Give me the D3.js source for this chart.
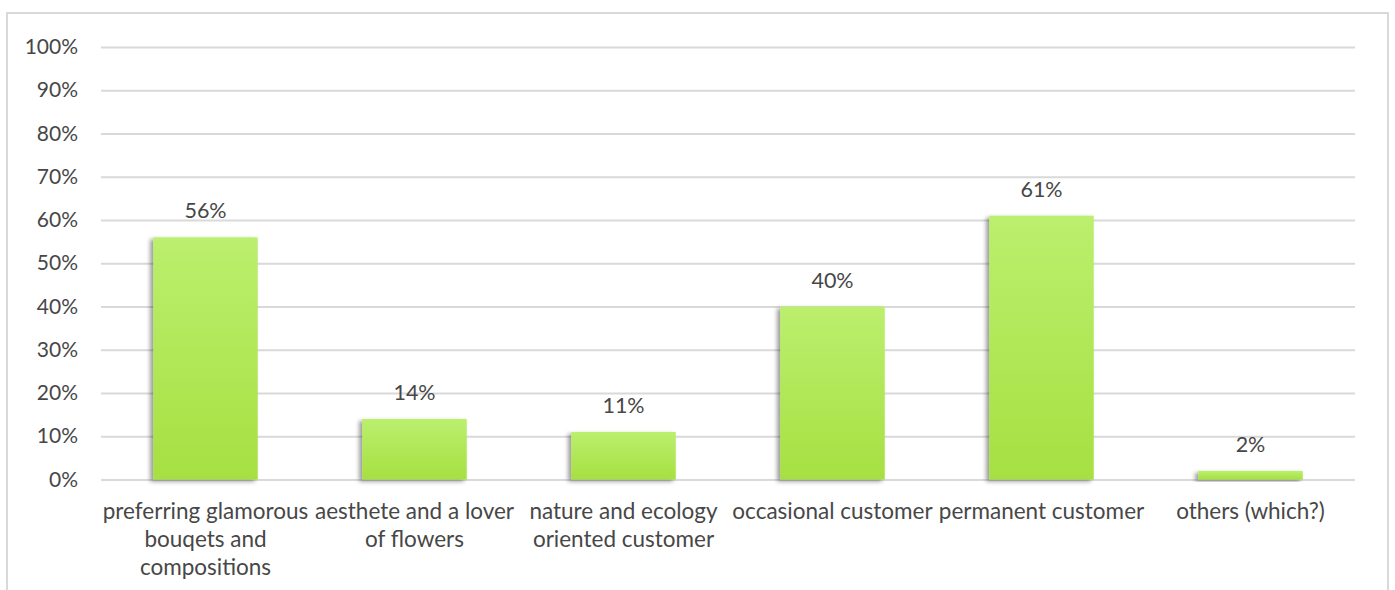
<!DOCTYPE html>
<html>
<head>
<meta charset="utf-8">
<script src="https://cdn.jsdelivr.net/npm/d3@7"></script>
<style>
  html, body { margin: 0; padding: 0; background: #fff; }
  svg { display: block; }
  text { font-family: Lato, "Open Sans", sans-serif; fill: #474747; }
</style>
</head>
<body>
<svg id="chart" width="1395" height="590"></svg>
<script>
// Customer types and their share of respondents
const categories = [
  ["preferring glamorous", "bouqets and", "compositions"],
  ["aesthete and a lover", "of flowers"],
  ["nature and ecology", "oriented customer"],
  ["occasional customer"],
  ["permanent customer"],
  ["others (which?)"]
];
const values = [56, 14, 11, 40, 61, 2];
const yTicks = [0, 10, 20, 30, 40, 50, 60, 70, 80, 90, 100];

const svg = d3.select("#chart");
const W = 1395, H = 590;
const plot = { left: 101, right: 1355, top: 47, bottom: 479.5 };

// Outer frame
svg.append("path")
  .attr("d", `M7,${H + 5} V13 H1388 V${H + 5}`)
  .attr("fill", "none")
  .attr("stroke", "#d9d9d9")
  .attr("stroke-width", 2);

const defs = svg.append("defs");
const grad = defs.append("linearGradient")
  .attr("id", "barFill").attr("x1", 0).attr("y1", 0).attr("x2", 0).attr("y2", 1);
grad.append("stop").attr("offset", "0%").attr("stop-color", "#bbef6e");
grad.append("stop").attr("offset", "100%").attr("stop-color", "#a6e041");

const shadow = defs.append("filter").attr("id", "barShadow")
  .attr("x", "-20%").attr("y", "-20%").attr("width", "140%").attr("height", "140%");
shadow.append("feDropShadow")
  .attr("dx", -3).attr("dy", 2).attr("stdDeviation", 2)
  .attr("flood-color", "#000").attr("flood-opacity", 0.4);

const x = d3.scaleBand()
  .domain(d3.range(values.length))
  .range([plot.left, plot.right])
  .paddingInner(0.5).paddingOuter(0.25);

const y = d3.scaleLinear()
  .domain([0, 100])
  .range([plot.bottom, plot.top]);

// Horizontal gridlines and percentage labels
const yAxis = d3.axisLeft(y)
  .tickValues(yTicks)
  .tickFormat(d => d + "%")
  .tickSize(-(plot.right - plot.left))
  .tickPadding(23);

const gy = svg.append("g")
  .attr("transform", `translate(${plot.left},0)`)
  .call(yAxis);
gy.select(".domain").remove();
gy.selectAll(".tick line").attr("stroke", "#d9d9d9").attr("stroke-width", 2);
gy.selectAll(".tick text")
  .attr("font-size", 21)
  .style("font-family", "Lato, sans-serif")
  .attr("fill", "#474747");

// Bars
svg.append("g").selectAll("rect")
  .data(values)
  .join("rect")
  .attr("x", (d, i) => x(i))
  .attr("width", x.bandwidth())
  .attr("y", d => y(d))
  .attr("height", d => y(0) - y(d))
  .attr("fill", "url(#barFill)")
  .attr("filter", "url(#barShadow)");

// Value labels
svg.append("g").selectAll("text")
  .data(values)
  .join("text")
  .attr("x", (d, i) => x(i) + x.bandwidth() / 2)
  .attr("y", d => y(d) - 19)
  .attr("text-anchor", "middle")
  .attr("font-size", 21.5)
  .text(d => d + "%");

// Category labels
const cat = svg.append("g").selectAll("text")
  .data(categories)
  .join("text")
  .attr("x", (d, i) => x(i) + x.bandwidth() / 2)
  .attr("y", 519)
  .attr("text-anchor", "middle")
  .attr("font-size", 22.5);
cat.selectAll("tspan")
  .data(d => d)
  .join("tspan")
  .attr("x", function () { return d3.select(this.parentNode).attr("x"); })
  .attr("dy", (d, i) => i === 0 ? 0 : 28)
  .text(d => d);
</script>
</body>
</html>
